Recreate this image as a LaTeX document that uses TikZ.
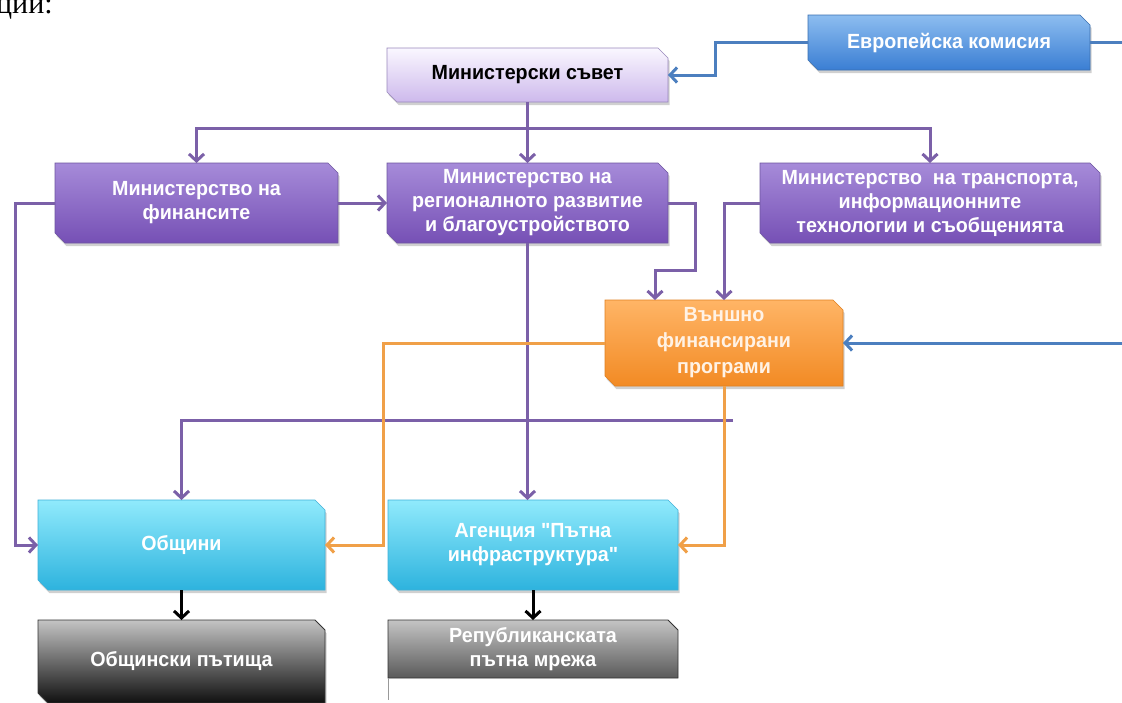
\documentclass[tikz,border=0pt]{standalone}
\usepackage{fontspec}
\newfontfamily\bxf{Liberation Sans}[FakeStretch=0.96]
\newfontfamily\serf{Liberation Serif}
\usetikzlibrary{arrows.meta,shadows,calc}
\definecolor{pTop}{HTML}{A68BD9}
\definecolor{pBot}{HTML}{7650B5}
\definecolor{pBord}{HTML}{6E55A0}
\definecolor{lTop}{HTML}{FAF7FF}
\definecolor{lBot}{HTML}{CDB9EC}
\definecolor{bTop}{HTML}{8DBDF0}
\definecolor{bBot}{HTML}{3A7ED3}
\definecolor{bBord}{HTML}{3A6FB0}
\definecolor{oTop}{HTML}{FFB566}
\definecolor{oBot}{HTML}{F28A24}
\definecolor{oBord}{HTML}{E08020}
\definecolor{cTop}{HTML}{90EAFC}
\definecolor{cBot}{HTML}{2DB3DE}
\definecolor{cBord}{HTML}{40B0D8}
\definecolor{gTop}{HTML}{C4C4C4}
\definecolor{gBot}{HTML}{101010}
\definecolor{gMid}{HTML}{5A5A5A}
\definecolor{lnP}{HTML}{7B60A8}
\definecolor{lnO}{HTML}{F0A048}
\definecolor{lnB}{HTML}{4C7FBF}
\tikzset{
  shd/.style={drop shadow={shadow xshift=1.5pt, shadow yshift=-3pt, opacity=0.3, fill=black!60}},
  purbox/.style={shd, top color=pTop, bottom color=pBot, draw=pBord, line width=0.6pt},
  lavbox/.style={shd, top color=lTop, bottom color=lBot, draw=pBord!70, line width=0.6pt},
  bluebox/.style={shd, top color=bTop, bottom color=bBot, draw=bBord, line width=0.6pt},
  orbox/.style={shd, top color=oTop, bottom color=oBot, draw=oBord, line width=0.6pt},
  cybox/.style={shd, top color=cTop, bottom color=cBot, draw=cBord, line width=0.6pt},
  grbox/.style={shd, top color=gTop, bottom color=gBot, draw=black!80, line width=0.8pt},
  grbox2/.style={top color=gTop, bottom color=gMid, draw=black!80, line width=0.8pt},
  boxtxt/.style={font=\bxf\bfseries\fontsize{20.5}{24}\selectfont, align=center, inner sep=0pt, outer sep=0pt, shape=rectangle},
  conn/.style={line width=3pt, -{Straight Barb[length=7pt,width=15pt]}},
  pconn/.style={conn, draw=lnP},
  oconn/.style={conn, draw=lnO},
  bconn/.style={conn, draw=lnB},
  kconn/.style={conn, draw=black},
}
\newcommand\snipbox[8]{%
  \path[#6] (#2,#3) -- ({#4-10},#3) -- (#4,{#3+10}) -- (#4,#5) -- ({#2+10},#5) -- (#2,{#5-10}) -- cycle;
  \node[boxtxt, text=#7, minimum width={(#4-#2)*1pt}, minimum height={(#5-#3)*1pt}] (#1) at ({(#2+#4)/2},{(#3+#5)/2}) {#8};
}
\begin{document}
\begin{tikzpicture}[x=1pt,y=-1pt]
\useasboundingbox[fill=white] (0,0) rectangle (1122,702);
\node[anchor=base west, inner sep=0pt, font=\serf\fontsize{30}{30}\selectfont] (frag) at (-4,13) {ции:};

\snipbox{ek}{808}{15}{1090}{70}{bluebox}{white}{Европейска комисия}
\snipbox{ms}{387}{48}{668}{102}{lavbox}{black}{Министерски съвет}
\snipbox{mf}{55}{163}{338}{243}{purbox}{white}{Министерство на\\финансите}
\snipbox{mrrb}{387}{163}{668}{243}{purbox}{white}{Министерство на\\регионалното развитие\\и благоустройството}
\snipbox{mt}{760}{163}{1100}{243}{purbox}{white}{Министерство\ \ на транспорта,\\информационните\\технологии и съобщенията}
\snipbox{ofp}{605}{300}{843}{386}{orbox}{white!90!orange}{Външно\\[2pt]финансирани\\[2pt]програми}
\snipbox{obs}{38}{500}{325}{590}{cybox}{white}{Общини}
\snipbox{agn}{388}{500}{678}{590}{cybox}{white}{Агенция "Пътна\\инфраструктура"}
\snipbox{op}{38}{620}{325}{703}{grbox}{white}{Общински пътища}
% Republican road network (cut at the bottom)
\path[grbox2] (388,620) -- (668,620) -- (678,630) -- (678,678) -- (388,678) -- cycle;
\node[boxtxt, text=white, minimum width=290pt, minimum height=58pt] (rpm) at (533,649) {Републиканската\\пътна мрежа};
\draw[black!40, line width=0.6pt] (rpm.south west) -- ++(0,22);

% blue connectors
\draw[bconn] (ek.west) -- ++(-93,0) |- (ms.east);
\draw[bconn] (ek.east) -- ++(50,0) |- (ofp.east);
% purple connectors
\draw[pconn] (ms.south) -- ++(0,26) -| (mf.north);
\draw[pconn] (ms.south) -- (mrrb.north);
\draw[pconn] (ms.south) -- ++(0,26) -| (mt.north);
\draw[pconn] (mf.east) -- (mrrb.west);
\draw[pconn] (mf.west) -- ++(-40,0) |- (obs.west);
\draw[pconn] (mrrb.east) -- ++(27,0) -- ++(0,67) -| ([xshift=50pt]ofp.north west);
\draw[pconn] (mt.west) -| (ofp.north);
\draw[pconn] (mrrb.south) -- (mrrb.south |- agn.north);
\coordinate (pj) at (733,420);
\draw[pconn] (pj) -| (obs.north);
% orange connectors
\draw[oconn] (ofp.west) -- ++(-222,0) |- (obs.east);
\draw[oconn] (ofp.south) |- (agn.east);
% black connectors
\draw[kconn] (obs.south) -- (op.north);
\draw[kconn] (agn.south |- rpm.south) ++(0,-88) -- (rpm.north);
\end{tikzpicture}
\end{document}
